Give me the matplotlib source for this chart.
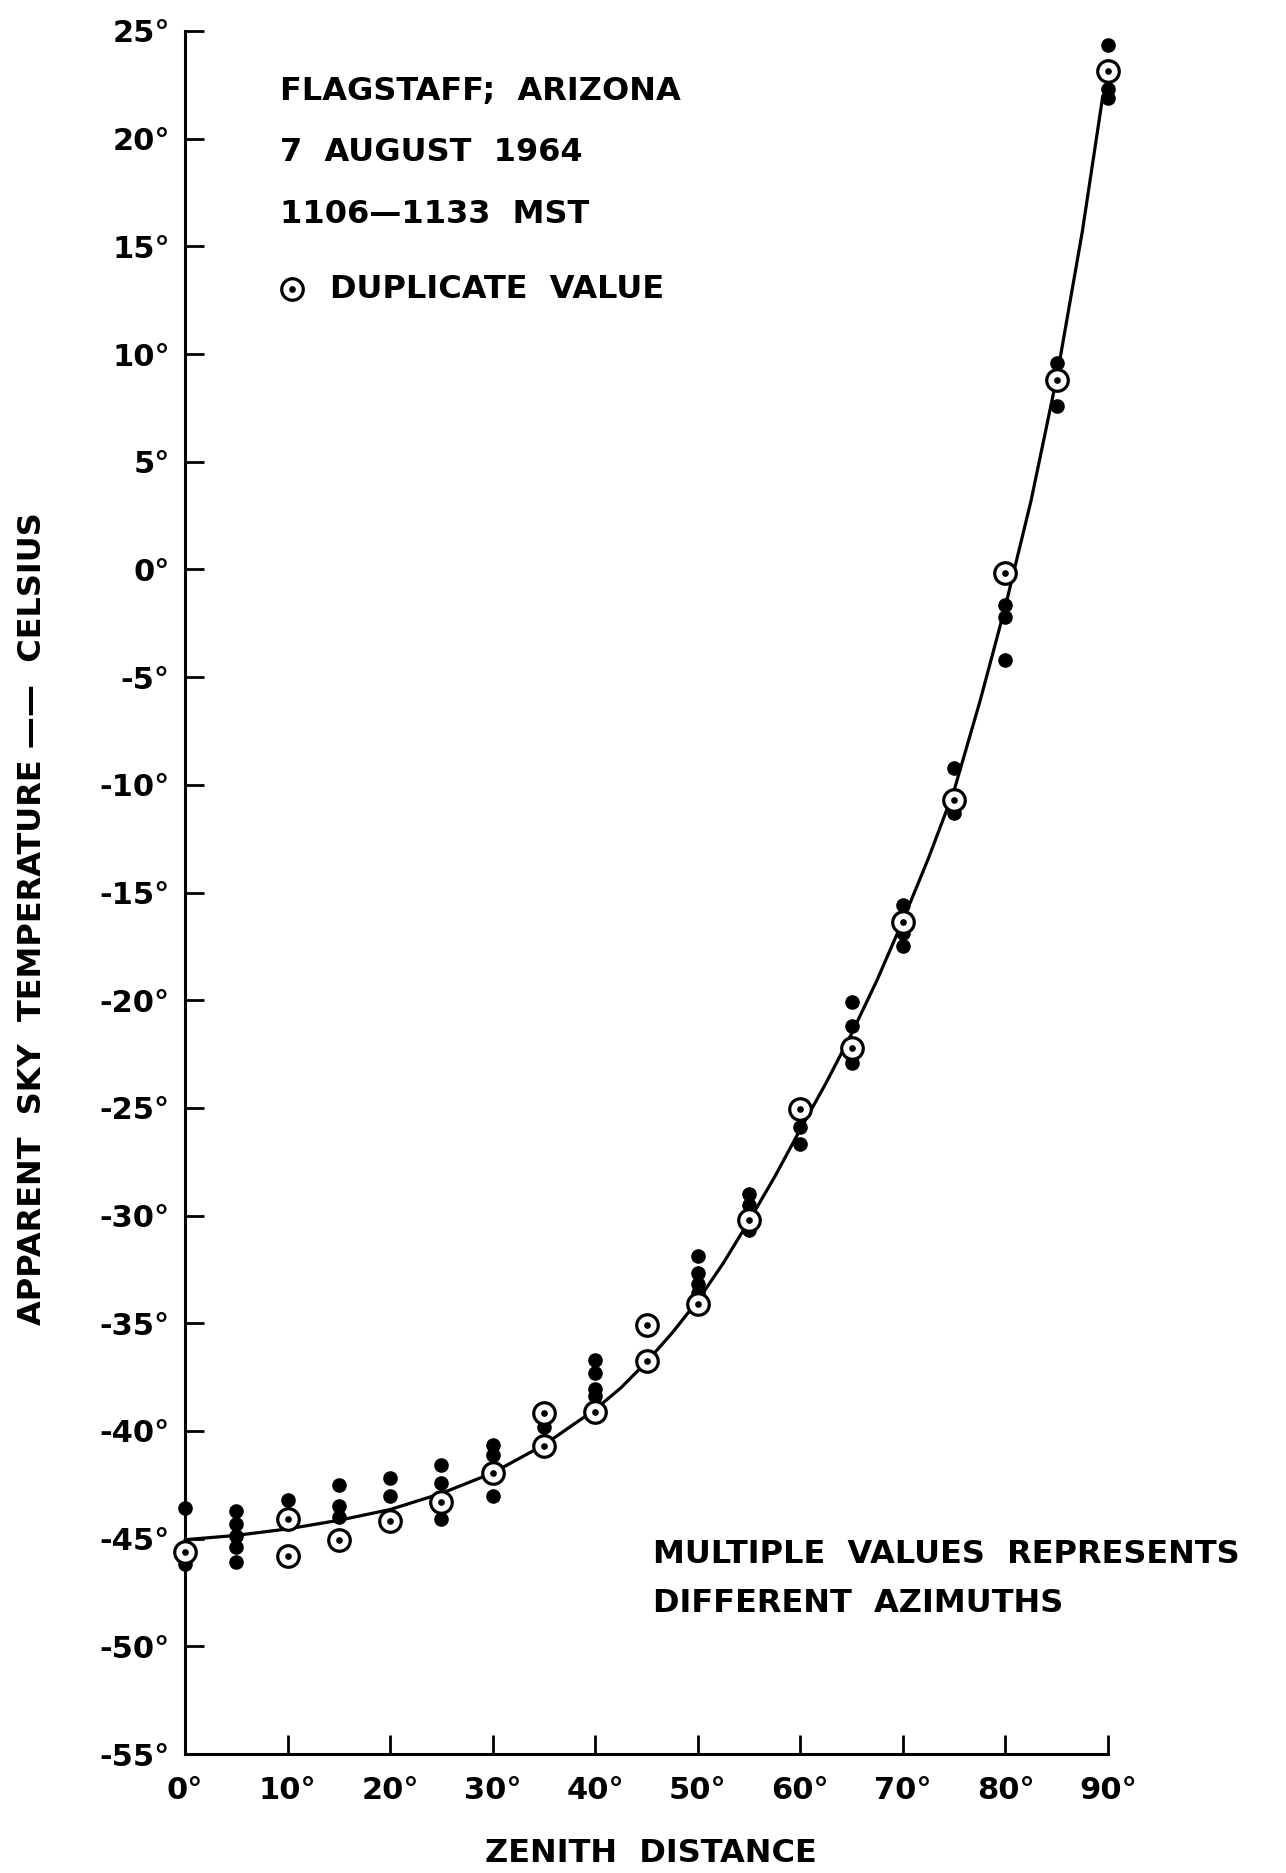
import matplotlib
matplotlib.use("Agg")
import matplotlib.pyplot as plt
from matplotlib.lines import Line2D

# Zenith distance (degrees) and apparent sky temperature (deg C)
single_zenith = [0, 0,
                 5, 5, 5, 5, 5,
                 10,
                 15, 15, 15,
                 20, 20,
                 25, 25, 25,
                 30, 30, 30,
                 35,
                 40, 40, 40, 40,
                 50, 50, 50, 50,
                 55, 55, 55,
                 60, 60,
                 65, 65, 65, 65,
                 70, 70, 70,
                 75, 75,
                 80, 80, 80,
                 85, 85,
                 90, 90, 90]
single_temp = [-43.6, -46.2,
               -43.7, -44.3, -44.9, -45.4, -46.1,
               -43.2,
               -42.5, -43.5, -44.0,
               -42.2, -43.0,
               -41.6, -42.4, -44.1,
               -40.65, -41.1, -43.0,
               -39.8,
               -36.7, -37.3, -38.05, -38.4,
               -31.9, -32.65, -33.2, -33.6,
               -29.0, -29.5, -30.65,
               -25.9, -26.7,
               -20.1, -21.2, -22.6, -22.9,
               -15.6, -16.9, -17.5,
               -9.2, -11.3,
               -1.65, -2.2, -4.2,
               9.6, 7.6,
               24.35, 22.3, 21.9]

dup_zenith = [0, 10, 10, 15, 20, 25, 30, 35, 35, 40, 45, 45,
              50, 55, 60, 65, 70, 75, 80, 85, 90]
dup_temp = [-45.6, -44.1, -45.8, -45.05, -44.2, -43.3, -41.95, -39.15, -40.7,
            -39.1, -35.1, -36.75, -34.1, -30.2, -25.05, -22.2, -16.35, -10.7,
            -0.15, 8.8, 23.15]

# Smoothed curve drawn through the observations
curve_zenith = [0, 5, 10, 15, 20, 25, 30, 35, 40, 42.5, 45, 47.5, 50, 52.5,
                55, 57.5, 60, 62.5, 65, 67.5, 70, 72.5, 75, 77.5, 80, 82.5,
                85, 87.5, 89.5]
curve_temp = [-45.05, -44.85, -44.55, -44.15, -43.65, -42.9, -41.95, -40.65,
              -39.0, -38.0, -36.8, -35.45, -33.95, -32.2, -30.25, -28.2,
              -26.0, -23.85, -21.55, -19.05, -16.3, -13.4, -10.25, -6.15,
              -1.7, 3.2, 8.9, 15.7, 22.0]

x_ticks = [0, 10, 20, 30, 40, 50, 60, 70, 80, 90]
y_ticks = [-55, -50, -45, -40, -35, -30, -25, -20, -15, -10, -5, 0,
           5, 10, 15, 20, 25]
x_tick_labels = [f"{v}°" for v in x_ticks]
y_tick_labels = [f"{v}°" for v in y_ticks]

header_lines = ["FLAGSTAFF;  ARIZONA", "7  AUGUST  1964", "1106—1133  MST"]
key_label = "DUPLICATE  VALUE"
note_lines = ["MULTIPLE  VALUES  REPRESENTS", "DIFFERENT  AZIMUTHS"]

plt.rcParams["font.family"] = ["DejaVu Sans"]
FONT = dict(fontweight="bold", color="black")
TXT = 23

W, H = 1286, 1873
fig = plt.figure(figsize=(W / 100, H / 100), dpi=100)
left, right, top, bottom = 185, 1108, 31, 1754
ax = fig.add_axes([left / W, 1 - bottom / H, (right - left) / W, (bottom - top) / H])

ax.set_xlim(0, 90)
ax.set_ylim(-55, 25)
for side in ("top", "right"):
    ax.spines[side].set_visible(False)
for side in ("left", "bottom"):
    ax.spines[side].set_linewidth(2.2)

ax.set_xticks(x_ticks)
ax.set_xticklabels(x_tick_labels, fontsize=22, **FONT)
ax.set_yticks(y_ticks)
ax.set_yticklabels(y_tick_labels, fontsize=22, **FONT)
ax.tick_params(axis="both", direction="in", length=14, width=2.0)
ax.tick_params(axis="x", pad=16)
ax.tick_params(axis="y", pad=11)

# Fitted curve
ax.plot(curve_zenith, curve_temp, color="black", lw=2.3, zorder=2,
        solid_capstyle="round", solid_joinstyle="round", clip_on=False)

# Individual readings
ax.plot(single_zenith, single_temp, linestyle="none", marker="o",
        markersize=9.5, color="black", zorder=3, clip_on=False)

# Duplicate readings: ring with centre dot
dup_style = dict(linestyle="none", marker="o", markersize=15.5,
                 markerfacecolor="white", markeredgecolor="black",
                 markeredgewidth=2.3, zorder=4, clip_on=False)
dot_style = dict(linestyle="none", marker="o", markersize=3.8,
                 color="black", zorder=5, clip_on=False)
ax.plot(dup_zenith, dup_temp, **dup_style)
ax.plot(dup_zenith, dup_temp, **dot_style)

# Header block
for i, line in enumerate(header_lines):
    ax.text(9.3, 22.2 - 2.85 * i, line, fontsize=TXT, ha="left", va="center",
            **FONT)
key_x, key_y = 10.4 / 90, (13.0 + 55) / 80
ax.add_line(Line2D([key_x], [key_y], transform=ax.transAxes, **dup_style))
ax.add_line(Line2D([key_x], [key_y], transform=ax.transAxes, **dot_style))
ax.text(14.1, 13.0, key_label, fontsize=TXT, ha="left", va="center", **FONT)

# Note about azimuths
ax.text(45.6, -45.75, note_lines[0], fontsize=TXT, ha="left", va="center",
        **FONT)
ax.text(45.6, -48.0, note_lines[1], fontsize=TXT, ha="left", va="center",
        **FONT)

# Axis titles
fig.text(651 / W, 1 - 1853 / H, "ZENITH  DISTANCE", fontsize=TXT,
         ha="center", va="center", **FONT)
fig.text(33 / W, 1 - 919 / H, "APPARENT  SKY  TEMPERATURE ——  CELSIUS",
         fontsize=TXT, rotation=90, ha="center", va="center", **FONT)

fig.savefig("out.png", dpi=100, facecolor="white")
